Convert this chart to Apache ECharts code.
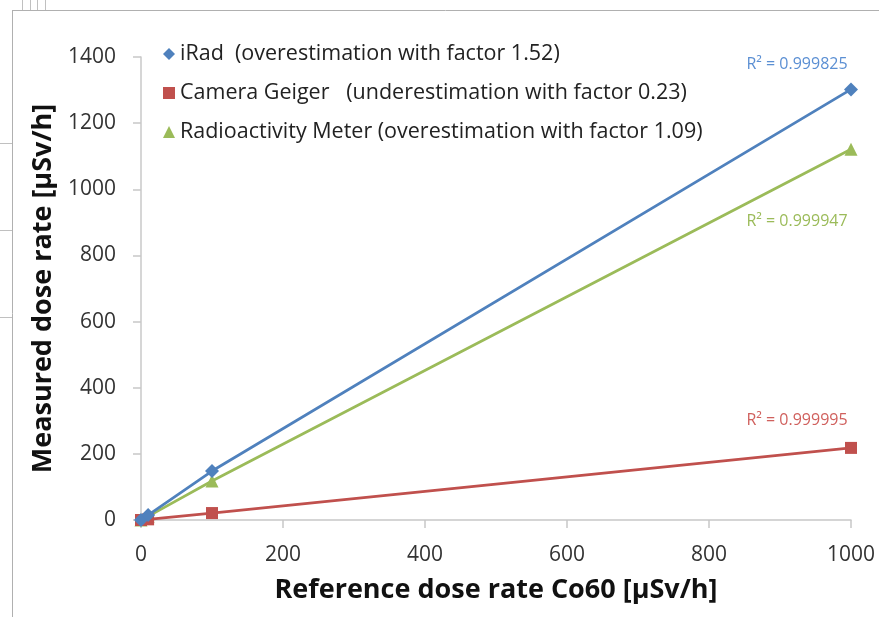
<!DOCTYPE html>
<html>
<head>
<meta charset="utf-8">
<script src="https://cdn.jsdelivr.net/npm/echarts@6/dist/echarts.min.js"></script>
<style>html,body{margin:0;padding:0;background:#fff;}#c{width:879px;height:617px;}</style>
</head>
<body>
<div id="c"></div>
<script>
const seriesNames = ['iRad', 'Camera Geiger', 'Radioactivity Meter'];
const seriesNotes = ['(overestimation with factor 1.52)', '(underestimation with factor 0.23)', '(overestimation with factor 1.09)'];
const r2Labels = ['R² = 0.999825', 'R² = 0.999995', 'R² = 0.999947'];
const referenceDose = [0, 10, 100, 1000];
const iRadValues = [0, 15, 148, 1302];
const cameraValues = [0, 2, 21, 218];
const meterValues = [0, 11, 118, 1121];
const xTicks = [0, 200, 400, 600, 800, 1000];
const yTicks = [0, 200, 400, 600, 800, 1000, 1200, 1400];

const colors = ['#4F81BD', '#C0504D', '#9BBB59'];
const labelColors = ['#5B8FD3', '#D0605D', '#9BBB59'];
const symbols = ['diamond', 'rect', 'triangle'];
const symbolSizes = [14, 12, 13];
const valueSets = [iRadValues, cameraValues, meterValues];
const labelPos = [['top', [-54, -5]], ['top', [-54, -8]], ['bottom', [-54, 53]]];
const noteSpacing = ['  ', '   ', ' '];
const FONT = 'Open Sans';

const chart = echarts.init(document.getElementById('c'));
const series = seriesNames.map((name, i) => ({
  name: name,
  type: 'line',
  data: referenceDose.map((x, j) => [x, valueSets[i][j]]),
  symbol: symbols[i],
  symbolSize: symbolSizes[i],
  lineStyle: { color: colors[i], width: 2.75 },
  itemStyle: { color: colors[i] },
  z: 3 - i,
  label: {
    show: true,
    position: labelPos[i][0],
    offset: labelPos[i][1],
    color: labelColors[i],
    fontFamily: FONT,
    fontSize: 16,
    formatter: p => p.dataIndex === referenceDose.length - 1 ? r2Labels[i] : ''
  },
  emphasis: { disabled: true }
}));

chart.setOption({
  animation: false,
  textStyle: { fontFamily: FONT },
  graphic: [
    { type: 'line', shape: { x1: 12, y1: 10.5, x2: 879, y2: 10.5 }, style: { stroke: '#b0b0b0', lineWidth: 1 } },
    { type: 'line', shape: { x1: 12.5, y1: 10, x2: 12.5, y2: 617 }, style: { stroke: '#b0b0b0', lineWidth: 1 } },
    { type: 'line', shape: { x1: 0, y1: 143.5, x2: 12, y2: 143.5 }, style: { stroke: '#c0c0c0', lineWidth: 1 } },
    { type: 'line', shape: { x1: 0, y1: 230.5, x2: 12, y2: 230.5 }, style: { stroke: '#c0c0c0', lineWidth: 1 } },
    { type: 'line', shape: { x1: 0, y1: 317.5, x2: 12, y2: 317.5 }, style: { stroke: '#c0c0c0', lineWidth: 1 } },
    { type: 'line', shape: { x1: 22.5, y1: 0, x2: 22.5, y2: 10 }, style: { stroke: '#c0c0c0', lineWidth: 1 } },
    { type: 'line', shape: { x1: 30.5, y1: 0, x2: 30.5, y2: 10 }, style: { stroke: '#c0c0c0', lineWidth: 1 } },
    { type: 'line', shape: { x1: 37.5, y1: 0, x2: 37.5, y2: 10 }, style: { stroke: '#c0c0c0', lineWidth: 1 } },
    { type: 'line', shape: { x1: 45.5, y1: 0, x2: 45.5, y2: 10 }, style: { stroke: '#c0c0c0', lineWidth: 1 } }
  ],
  legend: {
    orient: 'vertical',
    left: 158,
    top: 38,
    itemGap: 17,
    itemWidth: 12,
    itemHeight: 12,
    data: seriesNames.map((n, i) => ({ name: n, icon: symbols[i] })),
    textStyle: { fontFamily: FONT, fontSize: 21.5, color: '#222' },
    formatter: name => {
      const i = seriesNames.indexOf(name);
      return name + noteSpacing[i] + seriesNotes[i];
    },
    selectedMode: false
  },
  grid: { left: 141, right: 28, top: 57, bottom: 97, containLabel: false },
  xAxis: {
    type: 'value',
    min: 0, max: 1000, interval: 200,
    name: 'Reference dose rate Co60 [µSv/h]',
    nameLocation: 'middle',
    nameGap: 57,
    nameTextStyle: { fontFamily: FONT, fontSize: 27, fontWeight: 'bold', color: '#111' },
    axisLine: { show: true, lineStyle: { color: '#c8c8c8', width: 1.5 } },
    axisTick: { show: true, length: 8, lineStyle: { color: '#c8c8c8', width: 1.5 } },
    axisLabel: { fontFamily: FONT, fontSize: 21, color: '#333', margin: 25, formatter: v => xTicks.includes(v) ? String(v) : '' },
    splitLine: { show: false }
  },
  yAxis: {
    type: 'value',
    min: 0, max: 1400, interval: 200,
    name: 'Measured dose rate [µSv/h]',
    nameLocation: 'middle',
    nameGap: 81,
    nameTextStyle: { fontFamily: FONT, fontSize: 27, fontWeight: 'bold', color: '#111' },
    axisLine: { show: true, lineStyle: { color: '#c8c8c8', width: 1.5 } },
    axisTick: { show: true, length: 8, lineStyle: { color: '#c8c8c8', width: 1.5 } },
    axisLabel: { fontFamily: FONT, fontSize: 21, color: '#333', margin: 25, formatter: v => yTicks.includes(v) ? String(v) : '' },
    splitLine: { show: false }
  },
  series: series
});
</script>
</body>
</html>
